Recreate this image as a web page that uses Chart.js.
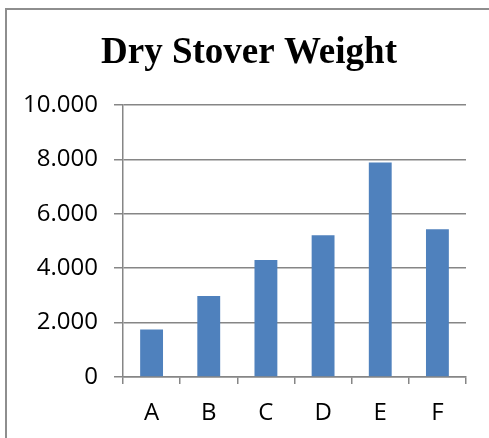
<!DOCTYPE html>
<html>
<head>
<meta charset="utf-8">
<script src="https://cdn.jsdelivr.net/npm/chart.js@4"></script>
<style>
  html, body { margin: 0; padding: 0; background: #fff; overflow: hidden; }
  #wrap { position: relative; width: 489px; height: 438px; overflow: hidden; }
  #frame { position: absolute; left: 5px; top: 8px; width: 600px; height: 600px;
           border: 2px solid #8e8e8e; box-sizing: border-box; }
  canvas { position: absolute; left: 0; top: 0; }
</style>
</head>
<body>
<div id="wrap">
  <div id="frame"></div>
  <canvas id="chart" width="489" height="438"></canvas>
</div>
<script>
// data
var categories = ['A', 'B', 'C', 'D', 'E', 'F'];
var weights    = [1750, 2980, 4300, 5210, 7890, 5430];
var yTicks     = [0, 2000, 4000, 6000, 8000, 10000];

var gridColor = '#868686';
var labelFont = { family: 'Open Sans', size: 24 };

function dotted(v) {
    return String(v).replace(/\B(?=(\d{3})+(?!\d))/g, '.');
}

// nudge the title box so its centre sits where the reference has it
var titleShift = {
    id: 'titleShift',
    afterLayout: function(chart) {
        if (chart.titleBlock) {
            chart.titleBlock.left = 32;
        }
    }
};

new Chart(document.getElementById('chart'), {
    type: 'bar',
    data: {
        labels: categories,
        datasets: [{
            data: weights,
            backgroundColor: '#4F81BD',
            borderWidth: 0,
            categoryPercentage: 1,
            barPercentage: 0.4
        }]
    },
    options: {
        responsive: false,
        animation: false,
        layout: { padding: { left: 0, right: 23, top: 0, bottom: 0 } },
        plugins: {
            legend: { display: false },
            tooltip: { enabled: false },
            title: {
                display: true,
                text: 'Dry Stover Weight',
                color: '#000',
                font: { family: 'Liberation Serif', size: 37, weight: 'bold', lineHeight: 1.2 },
                padding: { top: 31, bottom: 29.6 }
            }
        },
        scales: {
            x: {
                grid: { display: true, drawOnChartArea: false, drawTicks: true, tickLength: 7, color: gridColor, lineWidth: 1.5 },
                border: { color: gridColor, width: 1.5 },
                ticks: { color: '#000', font: labelFont, padding: 15 },
                afterFit: function(scale) { scale.height = 61; }
            },
            y: {
                min: 0,
                max: 10000,
                afterBuildTicks: function(scale) {
                    scale.ticks = yTicks.map(function(v) { return { value: v }; });
                },
                grid: { color: gridColor, lineWidth: 1.5, tickLength: 9 },
                border: { color: gridColor, width: 1.5 },
                ticks: {
                    color: '#000',
                    font: labelFont,
                    padding: 16,
                    callback: function(v) { return dotted(v); }
                },
                afterFit: function(scale) { scale.width = 123; }
            }
        }
    },
    plugins: [titleShift]
});
</script>
</body>
</html>
